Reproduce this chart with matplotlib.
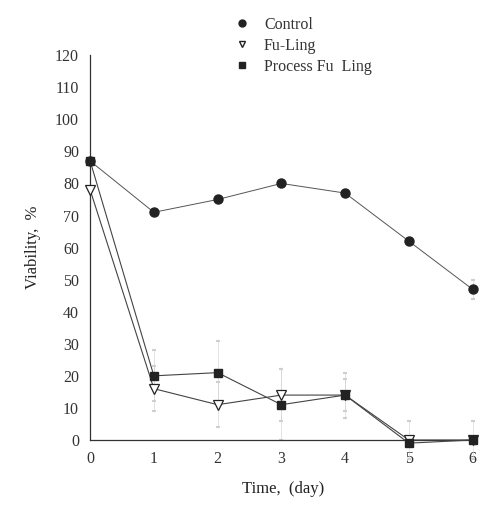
import matplotlib
matplotlib.use("Agg")
import matplotlib.pyplot as plt
from matplotlib.lines import Line2D

days = [0, 1, 2, 3, 4, 5, 6]
control = [87, 71, 75, 80, 77, 62, 47]
fuling = [78, 16, 11, 14, 14, 0, 0]
process = [87, 20, 21, 11, 14, -1, 0]
fuling_err = [0, 7, 7, 8, 5, 6, 6]
process_err = [0, 8, 10, 11, 7, 0, 0]
control_err = [0, 0, 0, 0, 0, 0, 3]
yticks = [0, 10, 20, 30, 40, 50, 60, 70, 80, 90, 100, 110, 120]

plt.rcParams['font.family'] = ['Liberation Serif', 'DejaVu Serif']
fig = plt.figure(figsize=(4.82, 5.11), dpi=100)
ax = fig.add_axes([0.187, 0.139, 0.800, 0.753])

ink = '#222222'
for vals, err in [(fuling, fuling_err), (process, process_err), (control, control_err)]:
    ax.errorbar(days, vals, yerr=err, fmt='none', ecolor='#cfcfcf', elinewidth=0.4,
                capsize=1.2, capthick=1.5, clip_on=False)

ax.plot(days, control, color='#555555', lw=0.7, marker='o', ms=6.5, mfc=ink, mec=ink,
        zorder=3, clip_on=False)
ax.plot(days, fuling, color='#444444', lw=0.8, marker='v', ms=7, mfc='white', mec=ink,
        mew=0.9, zorder=3, clip_on=False)
ax.plot(days, process, color='#444444', lw=0.8, marker='s', ms=5.5, mfc=ink, mec=ink,
        zorder=4, clip_on=False)

ax.set_xlim(0, 6.05)
ax.set_ylim(0, 120)
ax.set_xticks(days)
ax.set_yticks(yticks)
ax.tick_params(length=0, labelsize=11.5, colors='#333333', pad=8)
for s in ['top', 'right']:
    ax.spines[s].set_visible(False)
for s in ['left', 'bottom']:
    ax.spines[s].set_color('#333333')
    ax.spines[s].set_linewidth(0.9)

ax.set_xlabel('Time,  (day)', fontsize=12, color='#222222', labelpad=10)
ax.set_ylabel('Viability,  %', fontsize=12, color='#222222', labelpad=10)

handles = [
    Line2D([], [], ls='none', marker='o', ms=5, mfc=ink, mec=ink),
    Line2D([], [], ls='none', marker='v', ms=5, mfc='white', mec=ink),
    Line2D([], [], ls='none', marker='s', ms=4.5, mfc=ink, mec=ink),
]
leg = fig.legend(handles, ['Control', 'Fu-Ling', 'Process Fu  Ling'], loc='upper left',
                 bbox_to_anchor=(0.455, 0.995), frameon=False, fontsize=11.5,
                 handlelength=1.0, handletextpad=0.9, labelspacing=0.3)
for t in leg.get_texts():
    t.set_color('#333333')

fig.savefig('out.png', dpi=100)
